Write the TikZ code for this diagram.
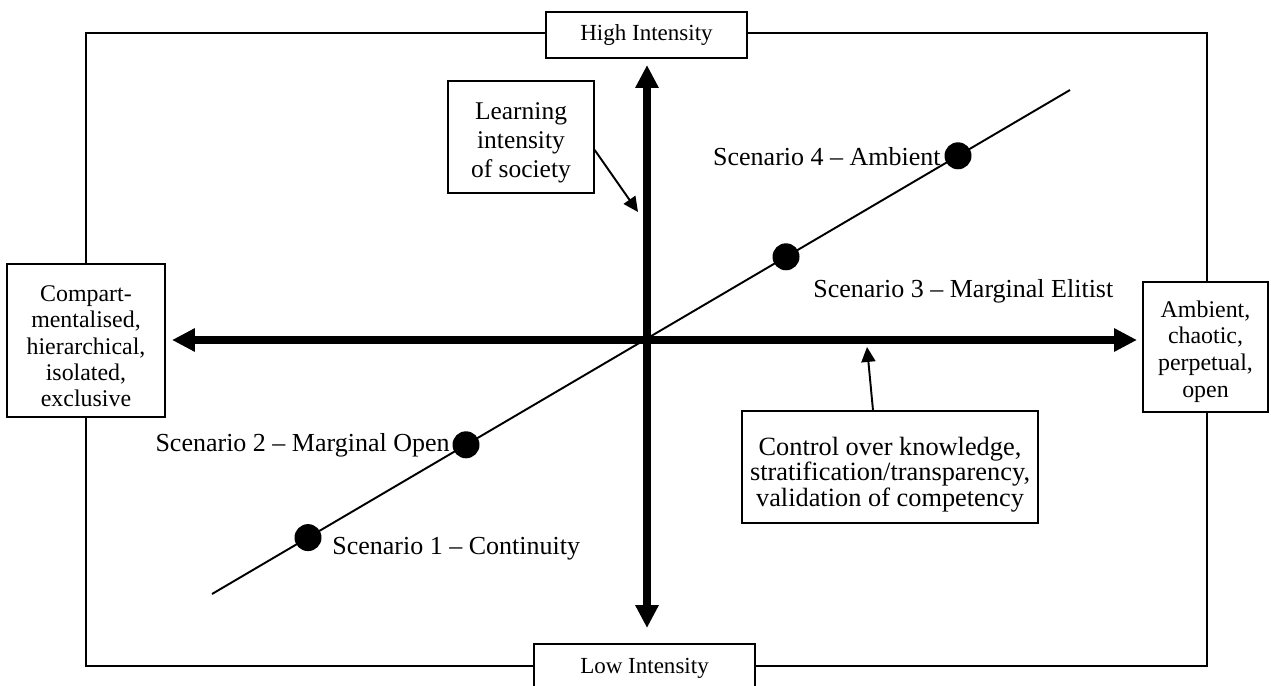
\documentclass[tikz,border=0pt]{standalone}
\usepackage{fontspec}
\setmainfont{Liberation Serif}
\usetikzlibrary{arrows.meta,positioning}

% pushes the first line of a box text down a little
\newcommand{\lowfirst}[1]{\rule{0pt}{#1}}

\begin{document}
\begin{tikzpicture}[
  x=0.02cm,
  y=-0.02cm,
  box/.style={
    draw,
    fill=white,
    line width=0.8pt,
    align=center,
    inner sep=0pt
  },
  axis/.style={
    line width=4.5pt,
    {Triangle[length=13pt,width=12.5pt]}-{Triangle[length=13pt,width=12.5pt]}
  },
  pointer/.style={
    line width=1.1pt,
    -{Triangle[length=8.5pt,width=8pt]}
  },
  scdot/.style={
    circle,
    fill=black,
    inner sep=0pt,
    minimum size=0.54cm
  },
  sclabel/.style={
    inner sep=0pt,
    font=\fontsize{14.8}{17}\selectfont
  }
]
\useasboundingbox (0,0) rectangle (1271,686);
% outer frame
\draw[line width=0.85pt] (86,33) rectangle (1207,666);
% end labels of the axes
\node[box, minimum width=4.02cm, minimum height=0.92cm,
  font=\fontsize{13.1}{15}\selectfont] (high) at (646.5,35) {High Intensity};
\node[box, minimum width=4.42cm, minimum height=0.96cm,
  font=\fontsize{13.1}{15}\selectfont] (low) at (644.5,668) {Low Intensity};
\node[box, minimum width=3.16cm, minimum height=3.06cm,
  font=\fontsize{13.6}{14.9}\selectfont] (closed) at (86,340.5)
  {\lowfirst{15.5pt}Compart-\\mentalised,\\hierarchical,\\isolated,\\exclusive};
\node[box, minimum width=2.5cm, minimum height=2.6cm,
  font=\fontsize{13.6}{15.2}\selectfont] (open) at (1205.5,347)
  {\lowfirst{14.5pt}Ambient,\\chaotic,\\perpetual,\\open};
% axes
\coordinate (vtop) at (647,65);
\coordinate (vbot) at (647,628);
\coordinate (hleft) at (172,340);
\coordinate (hright) at (1137,340);
\draw[axis] (vbot) -- (vtop);
\draw[axis] (hleft) -- (hright);
% scenario line
\coordinate (lstart) at (212,594);
\coordinate (lend) at (1070,90);
\draw[line width=1.1pt] (lstart) -- (lend);
\node[scdot] (s1) at (308,537.6) {};
\node[scdot] (s2) at (466,444.8) {};
\node[scdot] (s3) at (786,256.8) {};
\node[scdot] (s4) at (958,155.8) {};
\node[sclabel, anchor=west] (l1) at (332,549) {Scenario 1 -- Continuity};
\node[sclabel, anchor=east] (l2) at (450,445) {Scenario 2 -- Marginal Open};
\node[sclabel, anchor=west] (l3) at (813,291) {Scenario 3 -- Marginal Elitist};
\node[sclabel, anchor=east] (l4) at (941,157) {Scenario 4 -- Ambient};
% axis notes
\node[box, minimum width=2.92cm, minimum height=2.24cm,
  font=\fontsize{14.5}{16.5}\selectfont] (learn) at (521,137)
  {\lowfirst{16pt}Learning\\intensity\\of society};
\node[box, minimum width=5.92cm, minimum height=2.24cm,
  font=\fontsize{15}{14.5}\selectfont] (ctrl) at (890,467)
  {\lowfirst{19pt}Control over knowledge,\\stratification/transparency,\\validation of competency};
\coordinate (learntip) at (638,212);
\coordinate (ctrltip) at (867,347);
\draw[pointer] ([yshift=-0.26cm]learn.east) -- (learntip);
\draw[pointer] ([xshift=-0.34cm]ctrl.north) -- (ctrltip);
\end{tikzpicture}
\end{document}
